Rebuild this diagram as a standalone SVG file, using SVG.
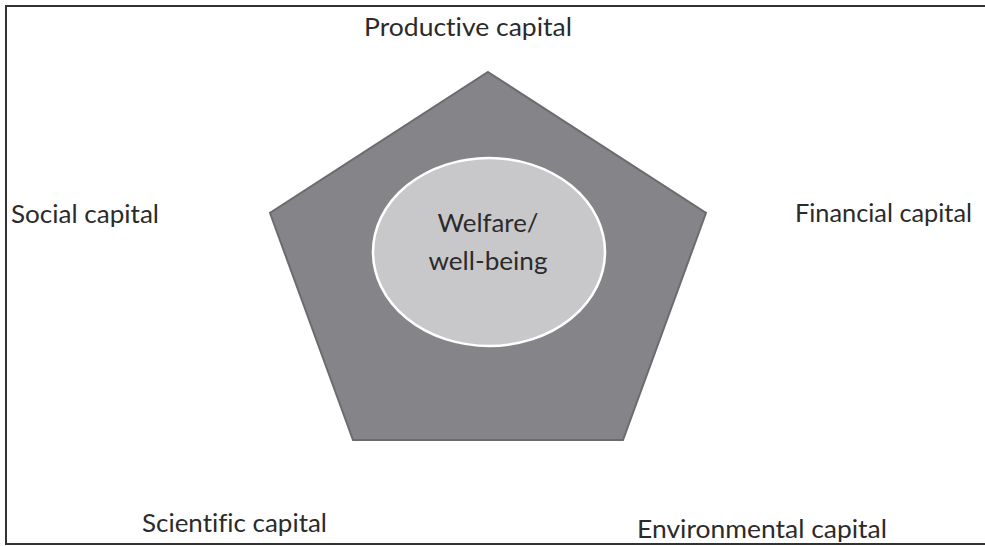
<svg xmlns="http://www.w3.org/2000/svg" width="985" height="546" viewBox="0 0 985 546">
<style>
.lbl{font-family:Lato,"Open Sans","Liberation Sans",sans-serif;font-size:25px;fill:#2b2b2b;font-variant-ligatures:none}
.frame{fill:none;stroke:#333;stroke-width:2}
</style>
<rect width="985" height="546" fill="#fff"/>
<path class="frame" d="M985 6 H6 V544 H985"/>
<g id="pentagon">
<polygon points="488,72 706,213 623,440 353,440 270,213" fill="#858589" stroke="#6c6c70" stroke-width="2"/>
</g>
<g id="center">
<ellipse cx="489" cy="252" rx="116" ry="94" fill="#c8c8ca" stroke="#fff" stroke-width="2.5"/>
<text class="lbl" x="488" y="232" text-anchor="middle" textLength="101" lengthAdjust="spacingAndGlyphs">Welfare/</text>
<text class="lbl" x="488" y="270" text-anchor="middle" textLength="119" lengthAdjust="spacingAndGlyphs">well-being</text>
</g>
<g id="productive"><text class="lbl" x="364" y="36" textLength="208" lengthAdjust="spacingAndGlyphs">Productive capital</text></g>
<g id="social"><text class="lbl" x="11" y="223" textLength="148" lengthAdjust="spacingAndGlyphs">Social capital</text></g>
<g id="financial"><text class="lbl" x="795" y="222" textLength="177" lengthAdjust="spacingAndGlyphs">Financial capital</text></g>
<g id="scientific"><text class="lbl" x="142" y="532" textLength="185" lengthAdjust="spacingAndGlyphs">Scientific capital</text></g>
<g id="environmental"><text class="lbl" x="637" y="538" textLength="250" lengthAdjust="spacingAndGlyphs">Environmental capital</text></g>
<g id="connectors"></g>
</svg>
